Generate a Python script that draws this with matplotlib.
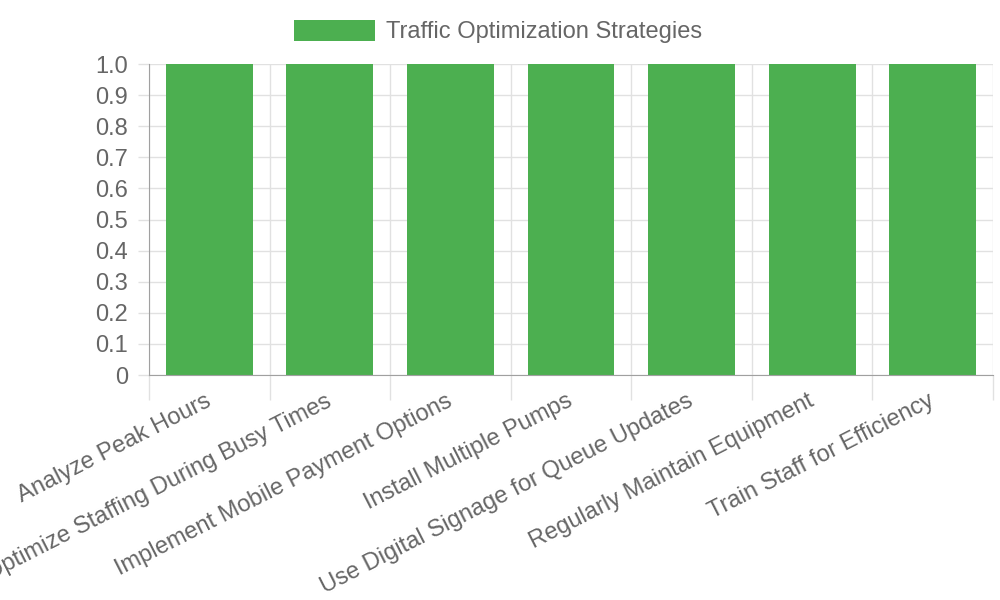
import numpy as np
import matplotlib.pyplot as plt
from matplotlib.ticker import FixedLocator

strategies = [
    "Analyze Peak Hours",
    "Optimize Staffing During Busy Times",
    "Implement Mobile Payment Options",
    "Install Multiple Pumps",
    "Use Digital Signage for Queue Updates",
    "Regularly Maintain Equipment",
    "Train Staff for Efficiency",
]
values = [1, 1, 1, 1, 1, 1, 1]
series_name = "Traffic Optimization Strategies"
y_ticks = [0, 0.1, 0.2, 0.3, 0.4, 0.5, 0.6, 0.7, 0.8, 0.9, 1.0]
y_labels = ['0', '0.1', '0.2', '0.3', '0.4', '0.5', '0.6', '0.7', '0.8', '0.9', '1.0']

plt.rcParams['font.family'] = ['Liberation Sans', 'DejaVu Sans']
text_col = '#666666'
grid_col = '#e1e1e1'
axis_col = '#a0a0a0'

fig = plt.figure(figsize=(10, 6), dpi=100)
ax = fig.add_axes([0.149, 0.375, 0.844, 0.5183])

x = np.arange(len(strategies))
ax.bar(x, values, width=0.72, color='#4caf50', edgecolor='#4caf50',
       linewidth=0, label=series_name, zorder=3)

ax.set_xlim(-0.5, len(strategies) - 0.5)
ax.set_ylim(0, 1.0)

# y axis
ax.set_yticks(y_ticks)
ax.set_yticklabels(y_labels)
ax.tick_params(axis='y', length=8, width=1, color=grid_col, pad=7,
               labelsize=17, labelcolor=text_col)
ax.grid(axis='y', color=grid_col, linewidth=1, zorder=0)

# x axis: labels at centres, gridlines/ticks at boundaries
ax.set_xticks(x)
ax.set_xticklabels(strategies, rotation=27, ha='right', va='center',
                   rotation_mode='anchor')
ax.tick_params(axis='x', which='major', length=0, pad=18,
               labelsize=17, labelcolor=text_col)
ax.xaxis.set_minor_locator(FixedLocator(np.arange(-0.5, len(strategies), 1.0)))
ax.tick_params(axis='x', which='minor', length=18, width=1, color=grid_col)
ax.grid(axis='x', which='minor', color=grid_col, linewidth=1, zorder=0)

for s in ['top', 'right']:
    ax.spines[s].set_visible(False)
ax.spines['left'].set_color(axis_col)
ax.spines['bottom'].set_color(axis_col)
ax.spines['left'].set_zorder(4)
ax.spines['bottom'].set_zorder(4)

fig.legend(loc='center', bbox_to_anchor=(0.4985, 0.9475), frameon=False,
           fontsize=17, labelcolor=text_col, handlelength=3.4,
           handleheight=1.0, handletextpad=0.5)

fig.savefig('out.png', dpi=100)
